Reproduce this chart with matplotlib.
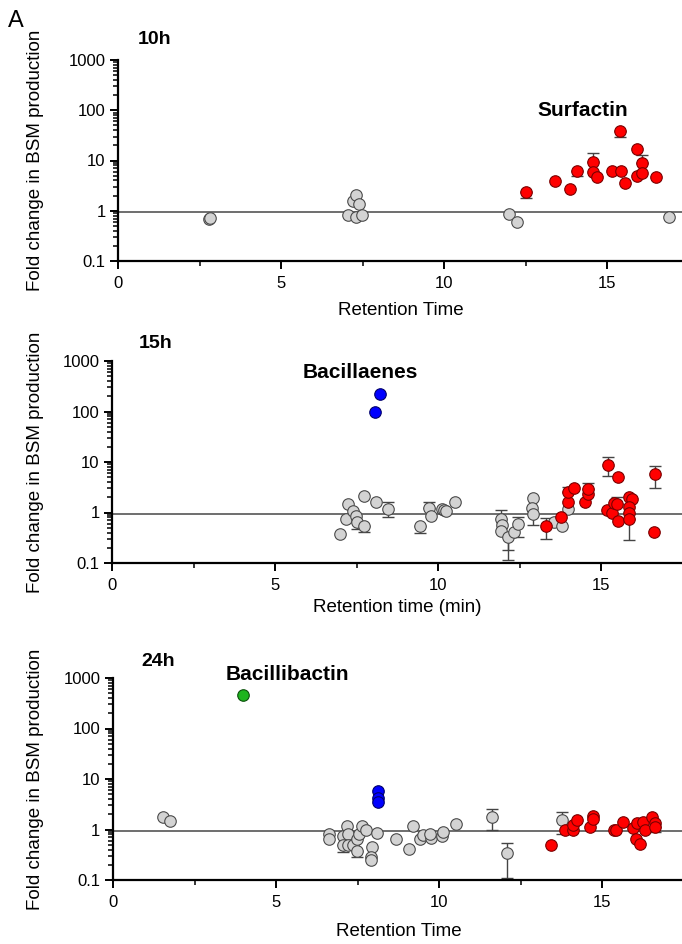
import numpy as np
import matplotlib
matplotlib.use("Agg")
import matplotlib.pyplot as plt
from matplotlib.ticker import LogLocator, FixedLocator, NullFormatter

plt.rcParams['font.family'] = ['Liberation Sans', 'DejaVu Sans']

# ---------------- data: 10h ----------------
h10_gray_x = [2.78, 2.82, 7.06, 7.2, 7.3, 7.4, 7.3, 7.48, 12.0, 12.24, 16.9]
h10_gray_y = [0.69, 0.73, 0.83, 1.58, 2.09, 1.38, 0.76, 0.83, 0.87, 0.6, 0.76]
h10_red_x = [12.5, 13.4, 13.87, 14.08, 14.57, 14.57, 14.7, 15.15, 15.43, 15.4,
             15.55, 15.92, 15.92, 16.07, 16.07, 16.5]
h10_red_y = [2.4, 3.98, 2.75, 6.3, 9.5, 6.0, 4.6, 6.3, 6.3, 38,
             3.6, 16.6, 5.0, 9.1, 5.75, 4.8]
h10_err_x = [12.5, 14.08, 14.57, 15.4, 16.07]
h10_err_y = [2.4, 6.3, 9.5, 38, 9.1]
h10_err_lo = [1.82, 5.0, 9.5, 30, 9.1]
h10_err_hi = [2.4, 6.3, 13.8, 38, 12.6]

# ---------------- data: 15h ----------------
h15_gray_x = [6.98, 7.23, 7.18, 7.38, 7.49, 7.52, 7.74, 7.74, 8.11, 8.48,
              9.45, 9.73, 9.77, 10.11, 10.17, 10.25, 10.53,
              11.93, 11.96, 11.93, 12.14, 12.32, 12.46, 12.9, 12.87, 12.9,
              13.57, 13.79, 13.99]
h15_gray_y = [0.37, 1.47, 0.74, 1.08, 0.86, 0.65, 2.14, 0.53, 1.6, 1.17,
              0.53, 1.22, 0.87, 1.17, 1.13, 1.05, 1.6,
              0.76, 0.57, 0.43, 0.33, 0.42, 0.6, 1.98, 1.22, 0.94,
              0.66, 0.55, 1.17]
h15_red_x = [13.31, 13.77, 14.0, 14.0, 14.18, 14.51, 14.59, 14.61, 15.2, 15.53,
             15.18, 15.33, 15.41, 15.49, 15.51, 15.85, 15.94, 15.85, 15.85, 15.85,
             16.66, 16.62]
h15_red_y = [0.55, 0.8, 1.65, 2.5, 3.1, 1.58, 2.35, 2.95, 8.8, 5.0,
             1.1, 1.0, 1.53, 1.49, 0.69, 2.07, 1.87, 1.28, 0.97, 0.75,
             5.8, 0.42]
h15_blue_x = [8.07, 8.23]
h15_blue_y = [97, 221]
h15_err_x = [7.52, 7.74, 8.48, 9.45, 9.73, 11.93, 12.14, 12.14, 12.46, 12.9,
             13.31, 14.0, 14.61, 15.2, 15.49, 15.85, 16.66]
h15_err_y = [0.65, 0.53, 1.17, 0.53, 1.22, 0.76, 0.33, 0.33, 0.6, 0.94,
             0.55, 2.5, 2.95, 8.8, 1.49, 0.75, 5.8]
h15_err_lo = [0.48, 0.41, 0.81, 0.40, 1.22, 0.76, 0.116, 0.18, 0.33, 0.57,
              0.30, 2.5, 2.95, 5.2, 1.49, 0.29, 3.04]
h15_err_hi = [0.65, 0.53, 1.58, 0.53, 1.58, 1.13, 0.33, 0.33, 0.83, 0.94,
              0.77, 3.27, 3.82, 12.5, 2.07, 0.75, 8.4]

# ---------------- data: 24h ----------------
h24_gray_x = [1.52, 1.75, 6.64, 6.64, 7.17, 7.07, 7.22, 7.07, 7.22, 7.37,
              7.48, 7.56, 7.63, 7.76, 7.48, 7.94, 7.91, 7.91, 8.11, 8.68,
              9.09, 9.21, 9.42, 9.52, 9.75, 9.72, 10.1, 10.13, 10.51, 11.62,
              12.08, 13.77]
h24_gray_y = [1.78, 1.46, 0.8, 0.64, 1.2, 0.75, 0.83, 0.49, 0.5, 0.5,
              0.66, 0.83, 1.16, 1.0, 0.37, 0.45, 0.29, 0.25, 0.87, 0.64,
              0.41, 1.16, 0.66, 0.77, 0.69, 0.83, 0.74, 0.9, 1.27, 1.78,
              0.35, 1.53]
h24_red_x = [13.43, 13.87, 14.1, 14.12, 14.24, 14.63, 14.73, 14.73, 15.38, 15.42,
             15.65, 15.96, 16.04, 16.17, 16.08, 16.27, 16.32, 16.52, 16.62, 16.62]
h24_red_y = [0.5, 0.97, 0.97, 1.22, 1.53, 1.13, 1.84, 1.58, 0.97, 0.97,
             1.42, 1.05, 0.64, 0.51, 1.35, 1.38, 1.0, 1.78, 1.32, 1.13]
h24_blue_x = [8.14, 8.14, 8.14]
h24_blue_y = [5.85, 4.14, 3.54]
h24_green_x = [4.0]
h24_green_y = [453]
h24_err_x = [7.07, 7.48, 11.62, 12.08, 13.77, 16.62]
h24_err_y = [0.49, 0.37, 1.78, 0.35, 1.53, 1.13]
h24_err_lo = [0.36, 0.29, 1.0, 0.11, 0.83, 0.9]
h24_err_hi = [0.49, 0.37, 2.53, 0.53, 2.18, 1.13]

W, H = 682, 944
fig = plt.figure(figsize=(W / 100, H / 100), dpi=100)

GRAY = ('#d3d3d3', '#4a4a4a')
RED = ('#ff0000', '#7a0000')
BLUE = ('#0000ff', '#00006a')
GREEN = ('#1eb41e', '#0b4f0b')

TICK_FS = 12
LABEL_FS = 13.5


def make_axes(left, top_px, bottom_px):
    ax = fig.add_axes([left / W, 1 - bottom_px / H, (W - left) / W, (bottom_px - top_px) / H])
    ax.set_yscale('log')
    ax.set_ylim(0.1, 1000)
    ax.set_xlim(0, (W - left) / 32.6)
    for s in ['top', 'right']:
        ax.spines[s].set_visible(False)
    for s in ['left', 'bottom']:
        ax.spines[s].set_linewidth(1.6)
    ax.yaxis.set_major_locator(FixedLocator([0.1, 1, 10, 100, 1000]))
    ax.set_yticklabels(['0.1', '1', '10', '100', '1000'])
    ax.yaxis.set_minor_locator(LogLocator(base=10, subs=np.arange(2, 10)))
    ax.yaxis.set_minor_formatter(NullFormatter())
    ax.xaxis.set_major_locator(FixedLocator([0, 5, 10, 15]))
    ax.xaxis.set_minor_locator(FixedLocator([2.5, 7.5, 12.5, 17.5]))
    ax.tick_params(which='major', length=6, width=1.4, labelsize=TICK_FS, direction='out', pad=3)
    ax.tick_params(axis='x', which='major', pad=5)
    ax.tick_params(which='minor', length=3.5, width=1.1, direction='out')
    ax.axhline(0.93, color='#555555', lw=1.2, zorder=1)
    ax.set_ylabel('Fold change in BSM production', fontsize=LABEL_FS)
    ax.yaxis.set_label_coords((44 - left) / (W - left), 0.5)
    return ax


def set_xlab(ax, text, left, bottom_px, cx, cy):
    ax.set_xlabel(text, fontsize=LABEL_FS, va='center')
    ax.xaxis.set_label_coords((cx - left) / (W - left), -(cy - bottom_px) / 202)


def pts(ax, x, y, col):
    ax.plot(x, y, 'o', ms=8.3, mfc=col[0], mec=col[1], mew=0.8, zorder=3, clip_on=False)


def errs(ax, x, y, lo, hi):
    y = np.array(y)
    ax.errorbar(x, y, yerr=[y - np.array(lo), np.array(hi) - y], fmt='none',
                ecolor='#444444', elinewidth=1.0, capsize=4, capthick=1.0, zorder=2)


# 10h
ax1 = make_axes(118, 60, 261)
errs(ax1, h10_err_x, h10_err_y, h10_err_lo, h10_err_hi)
pts(ax1, h10_gray_x, h10_gray_y, GRAY)
pts(ax1, h10_red_x, h10_red_y, RED)
set_xlab(ax1, 'Retention Time', 118, 261, 401, 311)

# 15h
ax2 = make_axes(112, 361, 563)
errs(ax2, h15_err_x, h15_err_y, h15_err_lo, h15_err_hi)
pts(ax2, h15_gray_x, h15_gray_y, GRAY)
pts(ax2, h15_red_x, h15_red_y, RED)
pts(ax2, h15_blue_x, h15_blue_y, BLUE)
set_xlab(ax2, 'Retention time (min)', 112, 563, 397, 607)

# 24h
ax3 = make_axes(113, 678, 880)
errs(ax3, h24_err_x, h24_err_y, h24_err_lo, h24_err_hi)
pts(ax3, h24_gray_x, h24_gray_y, GRAY)
pts(ax3, h24_red_x, h24_red_y, RED)
pts(ax3, h24_blue_x, h24_blue_y, BLUE)
pts(ax3, h24_green_x, h24_green_y, GREEN)
set_xlab(ax3, 'Retention Time', 113, 880, 399, 931)

# annotations
fig.text(16 / W, 1 - 21 / H, 'A', fontsize=17, ha='center', va='center')
fig.text(155 / W, 1 - 40 / H, '10h', fontsize=14, fontweight='bold', ha='center', va='center')
fig.text(583 / W, 1 - 110 / H, 'Surfactin', fontsize=15, fontweight='bold', ha='center', va='center')
fig.text(156 / W, 1 - 344 / H, '15h', fontsize=14, fontweight='bold', ha='center', va='center')
fig.text(360 / W, 1 - 373 / H, 'Bacillaenes', fontsize=15, fontweight='bold', ha='center', va='center')
fig.text(158 / W, 1 - 662 / H, '24h', fontsize=14, fontweight='bold', ha='center', va='center')
fig.text(287 / W, 1 - 674 / H, 'Bacillibactin', fontsize=15, fontweight='bold', ha='center', va='center')

fig.savefig('out.png', dpi=100)
